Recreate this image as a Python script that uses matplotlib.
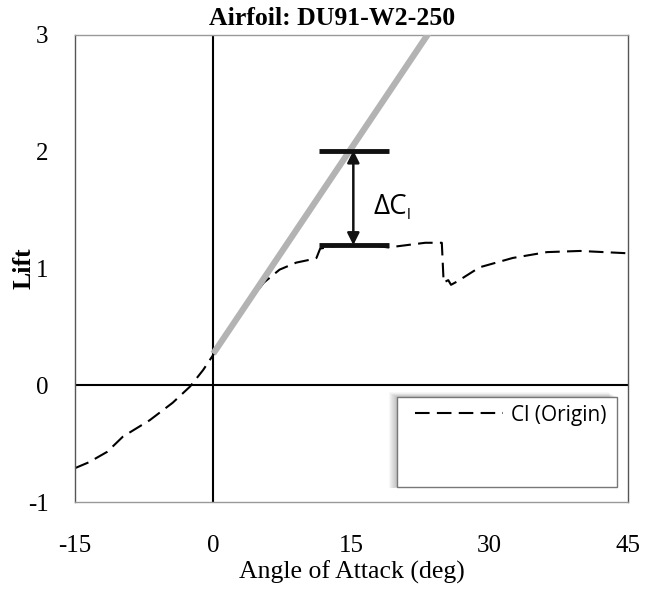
import numpy as np
import matplotlib
matplotlib.use('Agg')
import matplotlib.pyplot as plt
from matplotlib.patches import Rectangle

plt.rcParams['axes.unicode_minus'] = False

# lift curve (angle of attack in deg, Cl)
aoa = [-15, -13.5, -11.5, -9.8, -6.9, -4.4, -2.5, -1.1, 0, 2, 4, 5.5, 7.2, 9,
       10.8, 11.2, 11.6, 13, 15, 17, 19, 21, 23, 24.8, 25.0, 25.5, 25.8, 26.5,
       28.9, 32.5, 36.2, 39.8, 45]
cl = [-0.71, -0.66, -0.57, -0.44, -0.30, -0.15, -0.01, 0.13, 0.26, 0.50, 0.73,
      0.88, 0.99, 1.05, 1.08, 1.09, 1.17, 1.19, 1.20, 1.20, 1.18, 1.20, 1.22,
      1.22, 0.88, 0.90, 0.86, 0.89, 1.01, 1.09, 1.14, 1.15, 1.13]

# linear (potential flow) lift line
lin_aoa = [0, 23.5]
lin_cl = [0.27, 3.03]

# delta Cl marker
dcl_x = [11.5, 19.1]
dcl_top = 2.01
dcl_bot = 1.20
dcl_arrow_x = 15.2

xticks = [-15, 0, 15, 30, 45]
yticks = [-1, 0, 1, 2, 3]

fig = plt.figure(figsize=(6.56, 5.89), dpi=100)
ax = fig.add_axes([0.1143, 0.1477, 0.843, 0.793])

ax.axhline(0, color='black', lw=1.5, zorder=1)
ax.axvline(0, color='black', lw=1.5, zorder=1)

line, = ax.plot(aoa, cl, color='black', lw=1.5, label='Cl (Origin)', zorder=2)
line.set_dashes([7, 3.5])
ax.plot(lin_aoa, lin_cl, color='#b3b3b3', lw=4.5, solid_capstyle='butt', zorder=3)

# delta Cl bars and arrow
ax.plot(dcl_x, [dcl_top, dcl_top], color='#111111', lw=3.5, solid_capstyle='butt', zorder=4)
ax.plot(dcl_x, [dcl_bot, dcl_bot], color='#111111', lw=3.5, solid_capstyle='butt', zorder=4)
ax.annotate('', xy=(dcl_arrow_x, dcl_top), xytext=(dcl_arrow_x, dcl_bot),
            arrowprops=dict(arrowstyle='<|-|>', color='#111111', lw=1.8,
                            mutation_scale=18, shrinkA=0, shrinkB=0), zorder=5)
ax.text(17.4, 1.53, 'ΔC', fontsize=20, family='Open Sans', va='center', ha='left')
ax.text(21.0, 1.45, 'l', fontsize=11, family='Open Sans', va='center', ha='left')

ax.set_xlim(-15, 45)
ax.set_ylim(-1, 3)
ax.set_xticks(xticks)
ax.set_yticks(yticks)
ax.tick_params(length=0, labelsize=18)
ax.tick_params(axis='x', pad=24)
ax.tick_params(axis='y', pad=19)
for lab in ax.get_xticklabels() + ax.get_yticklabels():
    lab.set_family('Liberation Serif')

for side in ['left', 'right']:
    ax.spines[side].set_color('#555555')
for side in ['top', 'bottom']:
    ax.spines[side].set_color('#999999')
for s in ax.spines.values():
    s.set_linewidth(1.0)

ax.set_title('Airfoil: DU91-W2-250', fontsize=18.5, fontweight='bold',
             family='Liberation Serif', pad=7, x=0.465)
ax.set_xlabel('Angle of Attack (deg)', fontsize=18.5, family='Liberation Serif', va='center')
ax.xaxis.set_label_coords(0.5, -0.15)
ax.set_ylabel('Lift', fontsize=18.5, fontweight='bold', family='Liberation Serif', va='center')
ax.yaxis.set_label_coords(-0.093, 0.5)

# legend box with soft shadow
bx, by, bw, bh = 0.582, 0.032, 0.398, 0.193
for k in range(8):
    off = (k + 1) * 0.0012
    ax.add_patch(Rectangle((bx - off * 1.5, by - off * 0.2), bw, bh + off * 1.2,
                           transform=ax.transAxes, facecolor='black', alpha=0.03,
                           edgecolor='none', zorder=6))
ax.add_patch(Rectangle((bx, by), bw, bh, transform=ax.transAxes, facecolor='white',
                       edgecolor='#777777', lw=1.0, zorder=7))
leg = ax.legend(loc='center left', bbox_to_anchor=(0.615, 0.186), frameon=False,
                borderpad=0, borderaxespad=0, handlelength=4.2, handletextpad=0.4,
                prop={'family': 'Open Sans', 'size': 15})
leg.set_zorder(8)

fig.savefig('out.png', dpi=100)
